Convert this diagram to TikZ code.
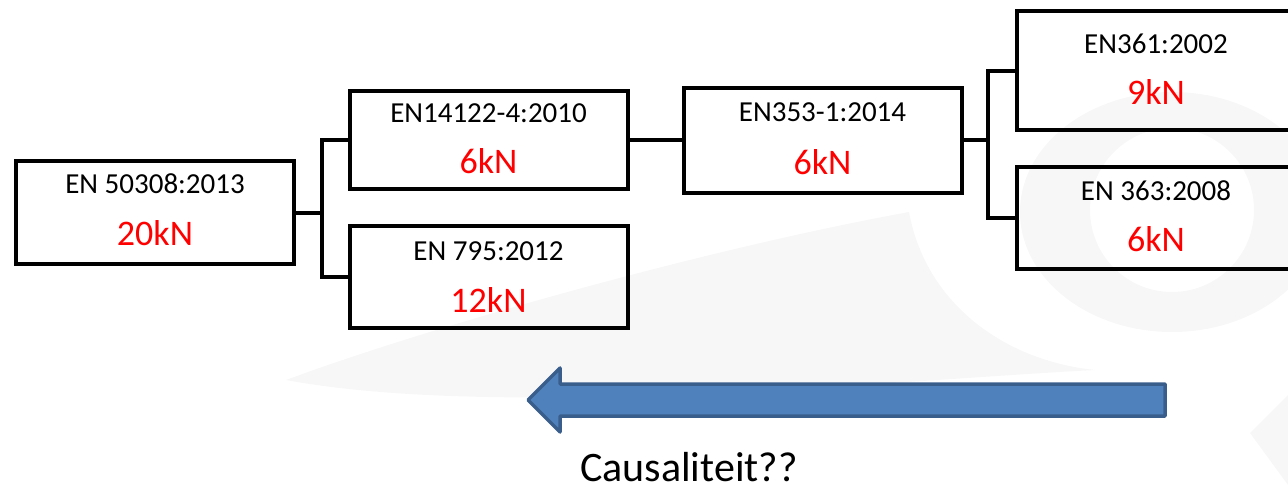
\documentclass[tikz,border=0pt]{standalone}
\usepackage{fontspec}
\setmainfont{Carlito}
\usepackage{tikz}
\usetikzlibrary{positioning,calc}
\definecolor{forcered}{RGB}{255,0,0}
\definecolor{arrowfill}{RGB}{79,129,189}
\definecolor{arrowline}{RGB}{58,94,140}
\definecolor{logogray}{RGB}{247,247,247}
\tikzstyle{normbox} = [rectangle, draw=black, line width=4pt, minimum width=278pt, inner sep=0pt]
\tikzstyle{normname} = [font=\fontsize{29}{29}\selectfont, inner sep=0pt]
\tikzstyle{force} = [font=\fontsize{36}{36}\selectfont, text=forcered, inner sep=0pt]
\tikzstyle{link} = [line width=4pt]

\begin{document}
\begin{tikzpicture}[x=1pt,y=-1pt]
\useasboundingbox (0,0) rectangle (1288,490);
\clip (0,0) rectangle (1288,490);
% faint logo behind
\fill[logogray] (286,380) .. controls (420,330) and (700,250) .. (909,212) .. controls (925,300) and (1000,360) .. (1095,370) .. controls (900,380) and (500,420) .. (286,380) -- cycle;
\fill[logogray, even odd rule] (1172,212) ellipse (152 and 120) (1172,210) circle (82);
\fill[logogray] (1250,433) -- (1288,395) -- (1288,485) -- cycle;
% boxes
\node[normbox, minimum height=103pt] (en50308) at (155,212.5) {};
\node[normbox, minimum height=98pt] (en14122) at (488.5,140) {};
\node[normbox, minimum height=102pt] (en795) at (488.5,277) {};
\node[normbox, minimum height=105pt] (en353) at (822.5,140) {};
\node[normbox, minimum height=119pt] (en361) at (1156,70.5) {};
\node[normbox, minimum height=102pt] (en363) at (1156,218) {};
\node[normname] at ($(en50308.center)+(0,-28.5)$) {EN 50308:2013};
\node[force] at ($(en50308.center)+(0,21)$) {20kN};
\node[normname] at ($(en14122.center)+(0,-27)$) {EN14122-4:2010};
\node[force] at ($(en14122.center)+(0,21.5)$) {6kN};
\node[normname] at ($(en795.center)+(0,-25.5)$) {EN 795:2012};
\node[force] at ($(en795.center)+(0,23)$) {12kN};
\node[normname] at ($(en353.center)+(0,-28)$) {EN353-1:2014};
\node[force] at ($(en353.center)+(0,22)$) {6kN};
\node[normname] at ($(en361.center)+(0,-26.5)$) {EN361:2002};
\node[force] at ($(en361.center)+(0,21.5)$) {9kN};
\node[normname] at ($(en363.center)+(0,-27.5)$) {EN 363:2008};
\node[force] at ($(en363.center)+(0,21.5)$) {6kN};
% connectors
\coordinate (fork1) at (322,212.5);
\coordinate (fork2) at (988,140);
\draw[link] (en50308.east) -- (fork1);
\draw[link] (en14122.west) -| (fork1) |- (en795.west);
\draw[link] (en14122.east) -- (en353.west);
\draw[link] (en353.east) -- (fork2);
\draw[link] (en361.west) -| (fork2) |- (en363.west);
% arrow
\draw[arrowline, fill=arrowfill, line width=3.5pt, line join=round] (528,400) -- (560,368) -- (560,384) -- (1165,384) -- (1165,416) -- (560,416) -- (560,432) -- cycle;
\node[font=\fontsize{42}{42}\selectfont, anchor=base, inner sep=0pt] (cause) at (689,481) {Causaliteit??};
\end{tikzpicture}
\end{document}
